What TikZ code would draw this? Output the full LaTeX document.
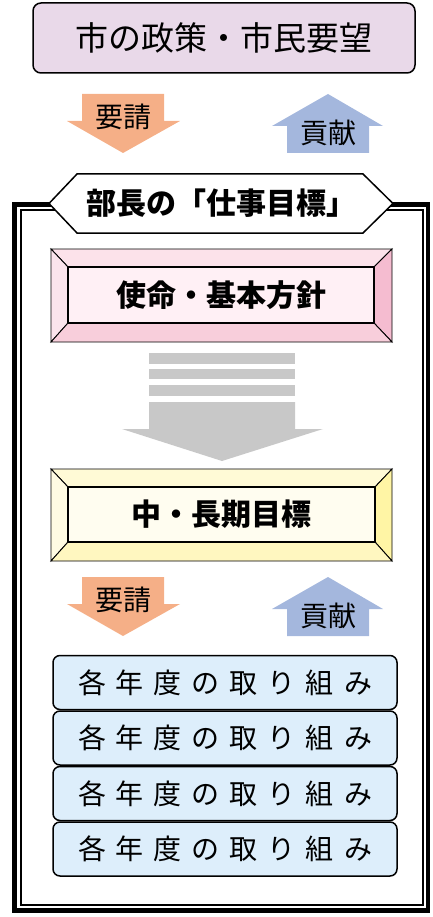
\documentclass[tikz,border=0pt]{standalone}
\usepackage{fontspec}
\setmainfont{Noto Sans CJK JP}
\usepackage{tikz}

\newcommand{\yeartext}{各\kern10pt年\kern10pt度\kern10ptの\kern10pt取\kern10ptり\kern10pt組\kern10ptみ}

\begin{document}
\begin{tikzpicture}[x=1pt, y=-1pt, every node/.style={inner sep=0pt}]
    % Define colors
    \definecolor{policyfill}{RGB}{233,217,233}
    \definecolor{requestfill}{RGB}{245,175,135}
    \definecolor{contribfill}{RGB}{164,183,221}
    \definecolor{arrowgray}{RGB}{200,200,200}
    \definecolor{yearfill}{RGB}{221,238,251}
    \definecolor{pinktop}{RGB}{252,226,234}
    \definecolor{pinkleft}{RGB}{251,228,236}
    \definecolor{pinkright}{RGB}{245,188,208}
    \definecolor{pinkbottom}{RGB}{248,206,219}
    \definecolor{pinkinner}{RGB}{255,240,245}
    \definecolor{yellowtop}{RGB}{255,250,214}
    \definecolor{yellowleft}{RGB}{255,251,226}
    \definecolor{yellowright}{RGB}{255,245,165}
    \definecolor{yellowbottom}{RGB}{255,247,192}
    \definecolor{yellowinner}{RGB}{255,253,240}

    \useasboundingbox (0,0) rectangle (433,917);

    % City policy box
    \node[draw, line width=1.5pt, rounded corners=8pt, fill=policyfill,
          minimum width=382pt, minimum height=70pt,
          font=\fontsize{33}{33}\selectfont] (policy) at (224,38) {市の政策・市民要望};

    % Request / contribution arrows (top)
    \fill[requestfill] (82,94) -- (164,94) -- (164,121) -- (180,121) -- (123,153) -- (67,121) -- (82,121) -- cycle;
    \node[font=\fontsize{28}{28}\selectfont] (request1) at (123,117) {要請};
    \fill[contribfill] (287,153) -- (369,153) -- (369,126) -- (383,126) -- (328,94) -- (272,126) -- (287,126) -- cycle;
    \node[font=\fontsize{28}{28}\selectfont] (contrib1) at (328,133) {貢献};

    % Outer double frame
    \draw[line width=4.5pt] (14.5,204.5) rectangle (428,910.5);
    \draw[line width=2pt] (21,210.5) rectangle (422.5,905);

    % Title hexagon
    \draw[line width=1.5pt, fill=white] (49,203.5) -- (77,174) -- (363,174) -- (393,203.5) -- (363,233) -- (77,233) -- cycle;
    \node[font=\bfseries\fontsize{30}{30}\selectfont] (title) at (221,203.5) {部長の「仕事目標」};

    % Mission box - pink bevel
    \draw[line width=0.9pt, fill=pinktop] (51,249) -- (392,249) -- (374,267) -- (68,267) -- cycle;
    \draw[line width=0.9pt, fill=pinkleft] (51,249) -- (68,267) -- (68,323) -- (51,342) -- cycle;
    \draw[line width=0.9pt, fill=pinkright] (392,249) -- (392,342) -- (374,323) -- (374,267) -- cycle;
    \draw[line width=0.9pt, fill=pinkbottom] (51,342) -- (68,323) -- (374,323) -- (392,342) -- cycle;
    \node[draw, line width=1.2pt, fill=pinkinner, minimum width=306pt, minimum height=56pt,
          font=\bfseries\fontsize{30}{30}\selectfont] (mission) at (221,295) {使命・基本方針};

    % Gray striped arrow
    \fill[arrowgray] (149,353) rectangle (295,364);
    \fill[arrowgray] (149,369) rectangle (295,379);
    \fill[arrowgray] (149,385) rectangle (295,396);
    \fill[arrowgray] (149,402) -- (295,402) -- (295,429) -- (323,429) -- (222,461) -- (122,429) -- (149,429) -- cycle;

    % Mid/long term box - yellow bevel
    \draw[line width=0.9pt, fill=yellowtop] (51,469) -- (392,469) -- (375,487) -- (68,487) -- cycle;
    \draw[line width=0.9pt, fill=yellowleft] (51,469) -- (68,487) -- (68,542) -- (51,561) -- cycle;
    \draw[line width=0.9pt, fill=yellowright] (392,469) -- (392,561) -- (375,542) -- (375,487) -- cycle;
    \draw[line width=0.9pt, fill=yellowbottom] (51,561) -- (68,542) -- (375,542) -- (392,561) -- cycle;
    \node[draw, line width=1.2pt, fill=yellowinner, minimum width=307pt, minimum height=55pt,
          font=\bfseries\fontsize{30}{30}\selectfont] (target) at (221.5,514.5) {中・長期目標};

    % Request / contribution arrows (bottom)
    \fill[requestfill] (82,577) -- (164,577) -- (164,604) -- (180,604) -- (123,636) -- (67,604) -- (82,604) -- cycle;
    \node[font=\fontsize{28}{28}\selectfont] (request2) at (123,600) {要請};
    \fill[contribfill] (287,636) -- (369,636) -- (369,609) -- (383,609) -- (328,577) -- (272,609) -- (287,609) -- cycle;
    \node[font=\fontsize{28}{28}\selectfont] (contrib2) at (328,616) {貢献};

    % Yearly work boxes
    \node[draw, line width=1.5pt, rounded corners=7pt, fill=yearfill, minimum width=344pt, minimum height=54pt,
          font=\fontsize{28}{28}\selectfont] (year1) at (225,682.5) {\yeartext};
    \node[draw, line width=1.5pt, rounded corners=7pt, fill=yearfill, minimum width=344pt, minimum height=54pt,
          font=\fontsize{28}{28}\selectfont] (year2) at (225,738) {\yeartext};
    \node[draw, line width=1.5pt, rounded corners=7pt, fill=yearfill, minimum width=344pt, minimum height=54pt,
          font=\fontsize{28}{28}\selectfont] (year3) at (225,793.5) {\yeartext};
    \node[draw, line width=1.5pt, rounded corners=7pt, fill=yearfill, minimum width=344pt, minimum height=54pt,
          font=\fontsize{28}{28}\selectfont] (year4) at (225,849) {\yeartext};
\end{tikzpicture}
\end{document}
